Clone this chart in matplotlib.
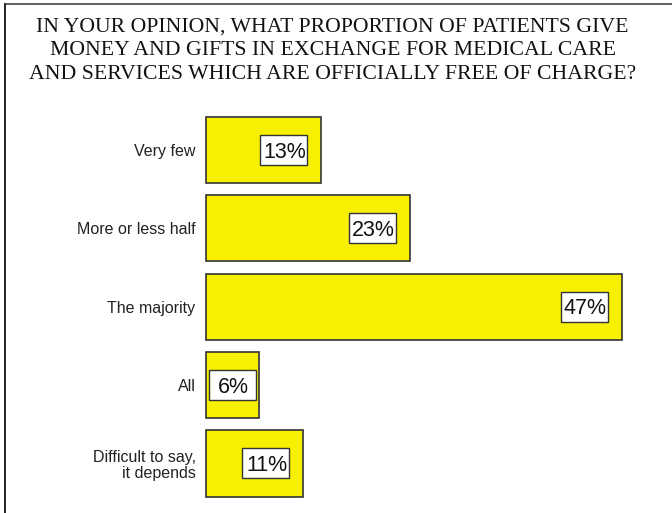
import matplotlib.pyplot as plt
from matplotlib.lines import Line2D
from matplotlib.patches import Rectangle
from matplotlib.text import Text
from matplotlib.offsetbox import AnnotationBbox, DrawingArea

# survey answers and shares (%)
categories = ['Very few', 'More or less half', 'The majority', 'All',
              'Difficult to say,\nit depends']
shares = [13, 23, 47, 6, 11]

title = ('IN YOUR OPINION, WHAT PROPORTION OF PATIENTS GIVE\n'
         'MONEY AND GIFTS IN EXCHANGE FOR MEDICAL CARE\n'
         'AND SERVICES WHICH ARE OFFICIALLY FREE OF CHARGE?')

W, H = 672, 513
DPI = 100
fig = plt.figure(figsize=(W / DPI, H / DPI), dpi=DPI)
ax_w = 442.5
ax = fig.add_axes([206 / W, 0.0202, ax_w / W, 0.7637])

ypos = list(range(len(categories)))
bars = ax.barh(ypos, shares, height=0.845, color='#f7f000',
               edgecolor='#333333', linewidth=1.2)
for b in bars:
    b.set_clip_on(False)

ax.set_xlim(0, 50)
ax.set_ylim(len(categories) - 0.5, -0.5)

# value labels: fixed-size white boxes placed inside the bar end
px_per_unit = ax_w / 50
box_w, box_h = 47, 30          # pixels
pt = 72 / DPI                  # pixels -> points
for y, v in zip(ypos, shares):
    da = DrawingArea(box_w * pt, box_h * pt, 0, 0)
    da.add_artist(Rectangle((0, 0), box_w * pt, box_h * pt, fc='white',
                            ec='#333333', lw=1.0))
    da.add_artist(Text((box_w / 2 + 1) * pt, 7.3 * pt, f'{v}%',
                       ha='center', va='baseline', fontsize=15.5,
                       family='Liberation Sans', color='#111111'))
    xoff = max(-14, 3 + box_w - v * px_per_unit)
    ab = AnnotationBbox(da, (v, y), xybox=(xoff, 0),
                        boxcoords='offset pixels', box_alignment=(1, 0.5),
                        frameon=False, pad=0)
    ax.add_artist(ab)

ax.set_yticks(ypos)
ax.set_yticklabels(categories, fontsize=11.5, family='Liberation Sans',
                   color='#222222', linespacing=1.05)
ax.tick_params(axis='y', length=0, pad=7.5)
ax.set_xticks([])
for s in ax.spines.values():
    s.set_visible(False)

fig.text(0.495, 1 - 51 / H, title, ha='center', va='center',
         fontsize=15.7, family='Liberation Serif', color='#111111',
         linespacing=1.32)

# frame edges at top and left
fig.add_artist(Line2D([5 / W, 1], [1 - 4 / H, 1 - 4 / H], color='#444444',
                      lw=1.2))
fig.add_artist(Line2D([5 / W, 5 / W], [0, 1 - 4 / H], color='#222222',
                      lw=1.4))

fig.savefig('out.png', dpi=DPI)
